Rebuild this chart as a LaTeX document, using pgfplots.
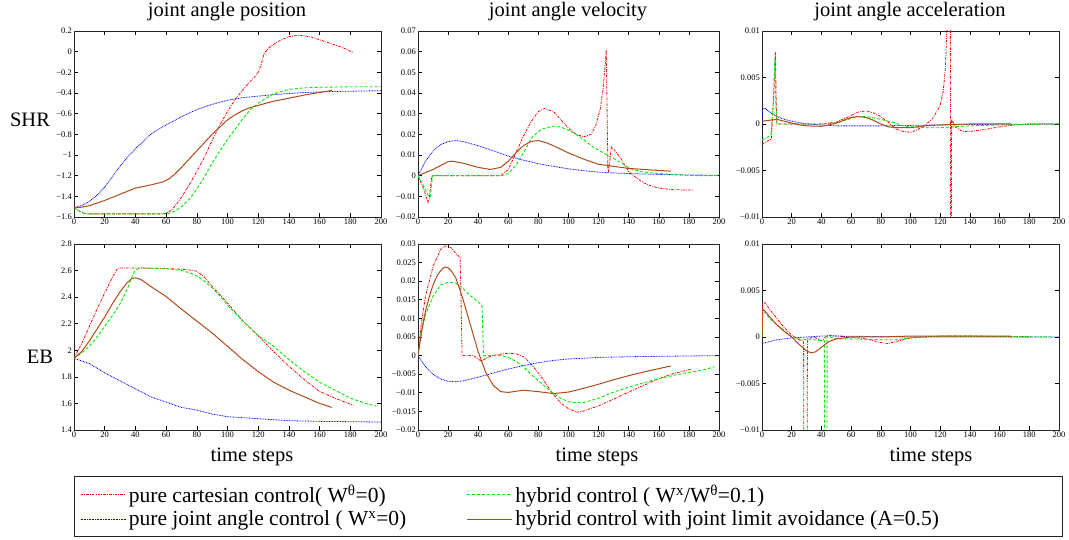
\documentclass[border=0pt]{standalone}
\usepackage{fontspec}
\setmainfont{Liberation Serif}
\usepackage{pgfplots}
\pgfplotsset{compat=1.18}
\definecolor{cR}{RGB}{255,0,0}
\definecolor{cB}{RGB}{0,0,255}
\definecolor{cG}{RGB}{0,235,0}
\definecolor{cN}{RGB}{175,75,25}
\newcommand{\ticksize}{\fontsize{8.5}{10}\selectfont}
\newcommand{\bigsize}{\fontsize{20.5}{24}\selectfont}
\newcommand{\legsize}{\fontsize{21.5}{24}\selectfont}
\tikzset{
 redS/.style={color=cR, line width=0.8pt, dash pattern=on 2.5pt off 1.2pt on 0.8pt off 1.2pt},
 blueS/.style={color=cB, line width=0.8pt, dash pattern=on 0.8pt off 0.8pt},
 greenS/.style={color=cG, line width=0.9pt, dash pattern=on 3pt off 2pt},
 brownS/.style={color=cN, line width=1pt}
}
\pgfplotsset{panel/.style={scale only axis, anchor=south west, xmin=0, xmax=200,
 xtick={0,20,...,200}, tick align=inside, major tick length=4pt, scaled y ticks=false,
 tick style={black, line width=0.6pt}, axis line style={line width=0.8pt, black!85},
 ticklabel style={font=\ticksize}, xticklabel style={inner sep=1.5pt},
 yticklabel style={inner sep=2pt},
 /pgf/number format/assume math mode=true, clip=true}}
\begin{document}
\begin{tikzpicture}
\path[use as bounding box] (0,0) rectangle (1069pt,540pt);
% ---------- SHR position
\begin{axis}[panel, at={(74pt,323pt)}, width=307pt, height=186pt, ymin=-1.6, ymax=0.2,
 ytick={-1.6,-1.4,-1.2,-1,-0.8,-0.6,-0.4,-0.2,0,0.2},
 yticklabels={−1.6,−1.4,−1.2,−1,−0.8,−0.6,−0.4,−0.2,0,0.2}]
\addplot[redS] coordinates {(0,-1.51) (3,-1.54) (6,-1.56) (8,-1.57) (58,-1.57) (60,-1.565) (63,-1.54) (66,-1.49) (70,-1.41) (75,-1.29) (80,-1.16) (85,-1.02) (90,-0.86) (95,-0.71) (100,-0.58) (105,-0.46) (110,-0.37) (114,-0.30) (118,-0.24) (120,-0.20) (122,-0.12) (124,-0.01) (128,0.05) (132,0.09) (136,0.12) (140,0.145) (147,0.16) (155,0.14) (165,0.09) (175,0.04) (182,-0.01)};
\addplot[blueS] coordinates {(0,-1.51) (5,-1.49) (10,-1.45) (15,-1.39) (20,-1.31) (25,-1.21) (30,-1.11) (35,-1.02) (40,-0.94) (45,-0.87) (50,-0.80) (55,-0.75) (60,-0.71) (70,-0.63) (80,-0.56) (90,-0.51) (100,-0.47) (110,-0.445) (120,-0.43) (135,-0.41) (150,-0.395) (170,-0.385) (200,-0.378)};
\addplot[greenS] coordinates {(0,-1.51) (3,-1.54) (6,-1.56) (8,-1.57) (60,-1.57) (63,-1.56) (66,-1.54) (70,-1.50) (75,-1.43) (80,-1.33) (85,-1.21) (90,-1.08) (95,-0.96) (100,-0.85) (105,-0.75) (110,-0.65) (115,-0.56) (120,-0.50) (125,-0.45) (130,-0.41) (135,-0.385) (140,-0.365) (150,-0.35) (160,-0.345) (180,-0.34) (200,-0.34)};
\addplot[brownS] coordinates {(0,-1.51) (5,-1.505) (10,-1.49) (20,-1.44) (30,-1.38) (40,-1.32) (50,-1.29) (58,-1.26) (62,-1.23) (66,-1.18) (70,-1.12) (75,-1.04) (80,-0.96) (85,-0.88) (90,-0.80) (95,-0.73) (100,-0.66) (105,-0.61) (110,-0.57) (115,-0.54) (120,-0.52) (130,-0.48) (140,-0.45) (150,-0.42) (160,-0.395) (168,-0.375)};
\end{axis}
% ---------- SHR velocity
\begin{axis}[panel, at={(418pt,323pt)}, width=301pt, height=186pt, ymin=-0.02, ymax=0.07,
 ytick={-0.02,-0.01,0,0.01,0.02,0.03,0.04,0.05,0.06,0.07},
 yticklabels={−0.02,−0.01,0,0.01,0.02,0.03,0.04,0.05,0.06,0.07}]
\addplot[redS] coordinates {(0,0) (3,-0.005) (5,-0.009) (6.6,-0.013) (7.5,-0.011) (8.5,-0.004) (9.3,0) (55,0) (60,0.003) (65,0.011) (70,0.019) (75,0.026) (80,0.031) (84,0.0325) (90,0.031) (95,0.027) (100,0.023) (105,0.020) (110,0.0188) (115,0.020) (118,0.024) (121,0.032) (123,0.042) (124.5,0.055) (125.1,0.061) (126.2,0.002) (126.6,0.002) (128.5,0.0139) (131,0.012) (135,0.008) (140,0.002) (145,-0.001) (150,-0.0035) (155,-0.005) (160,-0.006) (170,-0.0068) (183,-0.007)};
\addplot[blueS] coordinates {(0,0) (5,0.007) (10,0.012) (15,0.015) (20,0.0165) (25,0.017) (30,0.0165) (40,0.0145) (50,0.012) (60,0.0095) (70,0.0075) (80,0.0058) (90,0.0045) (100,0.0033) (110,0.0024) (120,0.0017) (130,0.0013) (140,0.001) (160,0.0006) (180,0.0003) (200,0.0002)};
\addplot[greenS] coordinates {(0,0) (3,-0.004) (5,-0.007) (7.5,-0.0105) (8.3,-0.010) (9.2,-0.003) (9.7,0) (55,0) (60,0.001) (65,0.005) (70,0.011) (76,0.0188) (82,0.0225) (90,0.024) (95,0.0235) (103,0.021) (110,0.0175) (116,0.014) (125,0.0103) (132,0.0075) (141,0.0034) (149,0.0018) (160,0.001) (183,0) (200,0)};
\addplot[brownS] coordinates {(0,0) (10,0.003) (20,0.0068) (23,0.007) (30,0.006) (40,0.004) (48,0.003) (55,0.004) (60,0.007) (65,0.011) (70,0.0145) (75,0.0165) (80,0.017) (85,0.016) (90,0.0145) (100,0.011) (110,0.008) (120,0.0055) (130,0.0045) (140,0.0035) (150,0.003) (160,0.0025) (168,0.0022)};
\end{axis}
% ---------- SHR acceleration
\begin{axis}[panel, at={(762pt,323pt)}, width=297pt, height=186pt, ymin=-0.01, ymax=0.01,
 ytick={-0.01,-0.005,0,0.005,0.01},
 yticklabels={−0.01,−0.005,0,0.005,0.01}]
\addplot[redS] coordinates {(0,-0.0022) (3,-0.0019) (6.3,-0.0016) (8.2,0.004) (9,0.0077) (9.6,0.002) (10,0) (20,0) (40,0) (50,0.0002) (60,0.0009) (65,0.0013) (70,0.0014) (75,0.0012) (80,0.0008) (85,0.0002) (90,-0.0005) (95,-0.0008) (100,-0.0009) (105,-0.0006) (110,-0.0001) (115,0.0006) (120,0.002) (122,0.0035) (123.5,0.006) (124.5,0.01) (125,0.02) (126.8,0.02) (127,-0.02) (127.4,-0.02) (127.7,0.0005) (130,-0.0003) (135,-0.0008) (140,-0.0008) (150,-0.0006) (160,-0.0003) (170,-0.0001) (180,0) (200,0)};
\addplot[blueS] coordinates {(0,0) (0.3,0.0016) (2,0.0017) (5,0.0013) (10,0.0008) (15,0.0005) (20,0.0003) (30,0.0) (40,-0.0001) (50,-0.0002) (60,-0.0002) (80,-0.0002) (100,-0.00015) (120,-0.0001) (140,-0.00005) (200,0)};
\addplot[greenS] coordinates {(0,-0.0017) (3,-0.0015) (6,-0.0012) (7.5,0.002) (8.7,0.0071) (9.4,0.002) (10,0) (40,0) (50,0.0001) (60,0.0006) (65,0.0008) (70,0.0008) (80,0.0005) (90,0.0001) (95,-0.0002) (100,-0.0003) (110,-0.0004) (120,-0.0004) (130,-0.0003) (140,-0.0002) (160,-0.0001) (200,0)};
\addplot[brownS] coordinates {(0,0.0003) (5,0.0004) (10,0.0005) (15,0.0003) (20,0.0001) (25,-0.0001) (30,-0.0002) (40,-0.00025) (45,-0.0001) (50,0.0001) (55,0.0004) (60,0.0007) (65,0.0008) (70,0.0007) (75,0.0004) (80,0.0) (85,-0.0003) (90,-0.0004) (100,-0.0004) (110,-0.0002) (120,-0.0001) (140,0) (168,0)};
\end{axis}
% ---------- EB position
\begin{axis}[panel, at={(74pt,110pt)}, width=307pt, height=186pt, ymin=1.4, ymax=2.8,
 ytick={1.4,1.6,...,2.8}, yticklabels={1.4,1.6,1.8,2,2.2,2.4,2.6,2.8}]
\addplot[redS] coordinates {(0,1.94) (5,2.05) (10,2.18) (15,2.31) (20,2.43) (25,2.55) (28,2.61) (30,2.62) (40,2.62) (60,2.615) (70,2.61) (75,2.605) (80,2.595) (85,2.55) (90,2.48) (95,2.42) (100,2.355) (110,2.22) (120,2.11) (130,1.99) (140,1.88) (150,1.78) (160,1.69) (170,1.64) (182,1.585)};
\addplot[blueS] coordinates {(0,1.94) (10,1.90) (20,1.83) (30,1.77) (40,1.71) (50,1.65) (60,1.61) (70,1.57) (80,1.55) (90,1.52) (100,1.50) (120,1.485) (140,1.47) (160,1.465) (200,1.46)};
\addplot[greenS] coordinates {(0,1.94) (5,1.98) (10,2.03) (15,2.10) (20,2.18) (25,2.26) (30,2.35) (35,2.47) (38,2.56) (40,2.605) (43,2.62) (60,2.615) (70,2.60) (75,2.585) (80,2.56) (85,2.52) (90,2.47) (95,2.41) (100,2.34) (110,2.22) (120,2.11) (130,2.03) (140,1.93) (150,1.84) (160,1.76) (170,1.70) (180,1.64) (190,1.60) (197,1.58)};
\addplot[brownS] coordinates {(0,1.94) (5,1.99) (10,2.07) (15,2.16) (20,2.25) (25,2.35) (30,2.44) (34,2.50) (37,2.535) (39,2.545) (41,2.543) (44,2.53) (50,2.48) (60,2.405) (70,2.31) (80,2.22) (90,2.13) (100,2.03) (110,1.93) (120,1.84) (130,1.76) (140,1.70) (150,1.65) (160,1.60) (168,1.57)};
\end{axis}
% ---------- EB velocity
\begin{axis}[panel, at={(418pt,110pt)}, width=301pt, height=186pt, ymin=-0.02, ymax=0.03,
 ytick={-0.02,-0.015,-0.01,-0.005,0,0.005,0.01,0.015,0.02,0.025,0.03},
 yticklabels={−0.02,−0.015,−0.01,−0.005,0,0.005,0.01,0.015,0.02,0.025,0.03}]
\addplot[redS] coordinates {(0,0) (2,0.008) (5,0.016) (10,0.024) (15,0.0285) (18,0.0295) (22,0.029) (26,0.027) (28,0.0265) (29.3,0) (37,0) (42,-0.0015) (46,-0.0005) (50,0) (55,0.0004) (60,0.0006) (65,0.0005) (70,-0.0003) (75,-0.0022) (80,-0.0047) (85,-0.0075) (89,-0.0100) (95,-0.0128) (100,-0.0143) (106,-0.0152) (110,-0.0149) (120,-0.0135) (130,-0.0117) (140,-0.0098) (150,-0.008) (160,-0.0062) (170,-0.0048) (182,-0.0036)};
\addplot[blueS] coordinates {(0,0) (5,-0.003) (10,-0.005) (15,-0.0063) (20,-0.0069) (25,-0.007) (30,-0.0068) (40,-0.0058) (50,-0.0047) (60,-0.0036) (70,-0.0027) (80,-0.0019) (90,-0.0013) (100,-0.0009) (120,-0.0005) (140,-0.0003) (160,-0.0002) (200,0)};
\addplot[greenS] coordinates {(0,0) (2,0.006) (5,0.011) (10,0.016) (15,0.019) (20,0.0197) (25,0.0195) (30,0.018) (35,0.016) (40,0.0145) (42.6,0.0132) (43.5,0) (55,0) (60,-0.0005) (65,-0.0015) (70,-0.003) (75,-0.005) (80,-0.0068) (85,-0.0085) (90,-0.0102) (95,-0.0115) (100,-0.0124) (105,-0.0127) (110,-0.0126) (120,-0.0115) (130,-0.0098) (140,-0.0085) (150,-0.0073) (160,-0.0062) (170,-0.0053) (180,-0.0045) (190,-0.0038) (197,-0.003)};
\addplot[brownS] coordinates {(0,0) (3,0.008) (5,0.012) (8,0.0165) (10,0.019) (13,0.0217) (16,0.0233) (18,0.0238) (20,0.0236) (22,0.0228) (25,0.021) (28,0.0175) (30,0.015) (35,0.008) (40,0.001) (45,-0.0045) (50,-0.008) (55,-0.0097) (60,-0.0099) (70,-0.0093) (80,-0.0097) (90,-0.0102) (100,-0.0098) (110,-0.0088) (120,-0.0077) (130,-0.0065) (140,-0.0054) (150,-0.0044) (160,-0.0035) (168,-0.0028)};
\end{axis}
% ---------- EB acceleration
\begin{axis}[panel, at={(762pt,110pt)}, width=297pt, height=186pt, ymin=-0.01, ymax=0.01,
 ytick={-0.01,-0.005,0,0.005,0.01},
 yticklabels={−0.01,−0.005,0,0.005,0.01}]
\addplot[redS] coordinates {(0,0) (0.5,0.0035) (2,0.0037) (5,0.003) (10,0.002) (15,0.001) (20,0.0002) (25,-0.0003) (28,-0.0005) (28.3,-0.02) (30.3,-0.02) (30.6,-0.0002) (35,0) (40,-0.0004) (44.5,0.0002) (50,0.0001) (60,0) (70,-0.0002) (80,-0.0006) (85,-0.0007) (90,-0.0005) (100,-0.0001) (110,0) (120,0.0001) (140,0.0001) (182,0)};
\addplot[blueS] coordinates {(0,-0.0007) (5,-0.0005) (10,-0.0003) (20,-0.0001) (30,0) (40,0.0001) (50,0.0001) (100,0) (200,0)};
\addplot[greenS] coordinates {(0,0) (0.5,0.0025) (2,0.0027) (5,0.002) (10,0.0013) (15,0.0007) (20,0) (25,-0.0002) (30,-0.0003) (35,-0.0003) (40,-0.0004) (42,-0.0004) (42.3,-0.02) (43.6,-0.02) (43.9,0.0001) (50,-0.0002) (60,-0.0002) (80,-0.0003) (90,-0.0003) (100,-0.0001) (120,0.0001) (140,0.0001) (197,0)};
\addplot[brownS] coordinates {(0,0) (0.5,0.003) (2,0.0028) (5,0.0022) (10,0.0013) (15,0.0006) (20,0) (25,-0.0008) (30,-0.0015) (33,-0.0017) (36,-0.0016) (40,-0.0011) (45,-0.0005) (50,-0.0002) (60,0) (80,0) (100,0.0001) (120,0.0001) (168,0.0001)};
\end{axis}
% ---------- legend
\draw[line width=0.8pt, black!85] (74pt,4pt) rectangle (1062pt,64pt);
\begin{axis}[hide axis, scale only axis, width=988pt, height=60pt, at={(74pt,4pt)}, anchor=south west,
 xmin=0, xmax=1, ymin=0, ymax=1, legend columns=2, legend cell align=left,
 legend image code/.code={\draw[#1] (0pt,0pt) -- (45pt,0pt);},
 legend style={at={(0.006,0.5)}, anchor=west, draw=none, fill=none, inner sep=0pt,
  font=\legsize, row sep=1pt, nodes={inner sep=3pt},
  /tikz/every even column/.append style={column sep=57pt}}]
\addplot[draw=none, forget plot] coordinates {(0,0)};
\addlegendimage{redS}
\addlegendentry{pure cartesian control( W\textsuperscript{θ}=0)}
\addlegendimage{greenS}
\addlegendentry{hybrid control ( W\textsuperscript{x}/W\textsuperscript{θ}=0.1)}
\addlegendimage{blueS}
\addlegendentry{pure joint angle control ( W\textsuperscript{x}=0)}
\addlegendimage{brownS}
\addlegendentry{hybrid control with joint limit avoidance (A=0.5)}
\end{axis}
% ---------- texts
\node[font=\bigsize] at (227pt,528pt) {joint angle position};
\node[font=\bigsize] at (568pt,528pt) {joint angle velocity};
\node[font=\bigsize] at (910pt,528pt) {joint angle acceleration};
\node[font=\bigsize] at (30pt,420pt) {SHR};
\node[font=\bigsize] at (40pt,183pt) {EB};
\node[font=\bigsize] at (252pt,83pt) {time steps};
\node[font=\bigsize] at (597pt,83pt) {time steps};
\node[font=\bigsize] at (931pt,83pt) {time steps};
\end{tikzpicture}
\end{document}
